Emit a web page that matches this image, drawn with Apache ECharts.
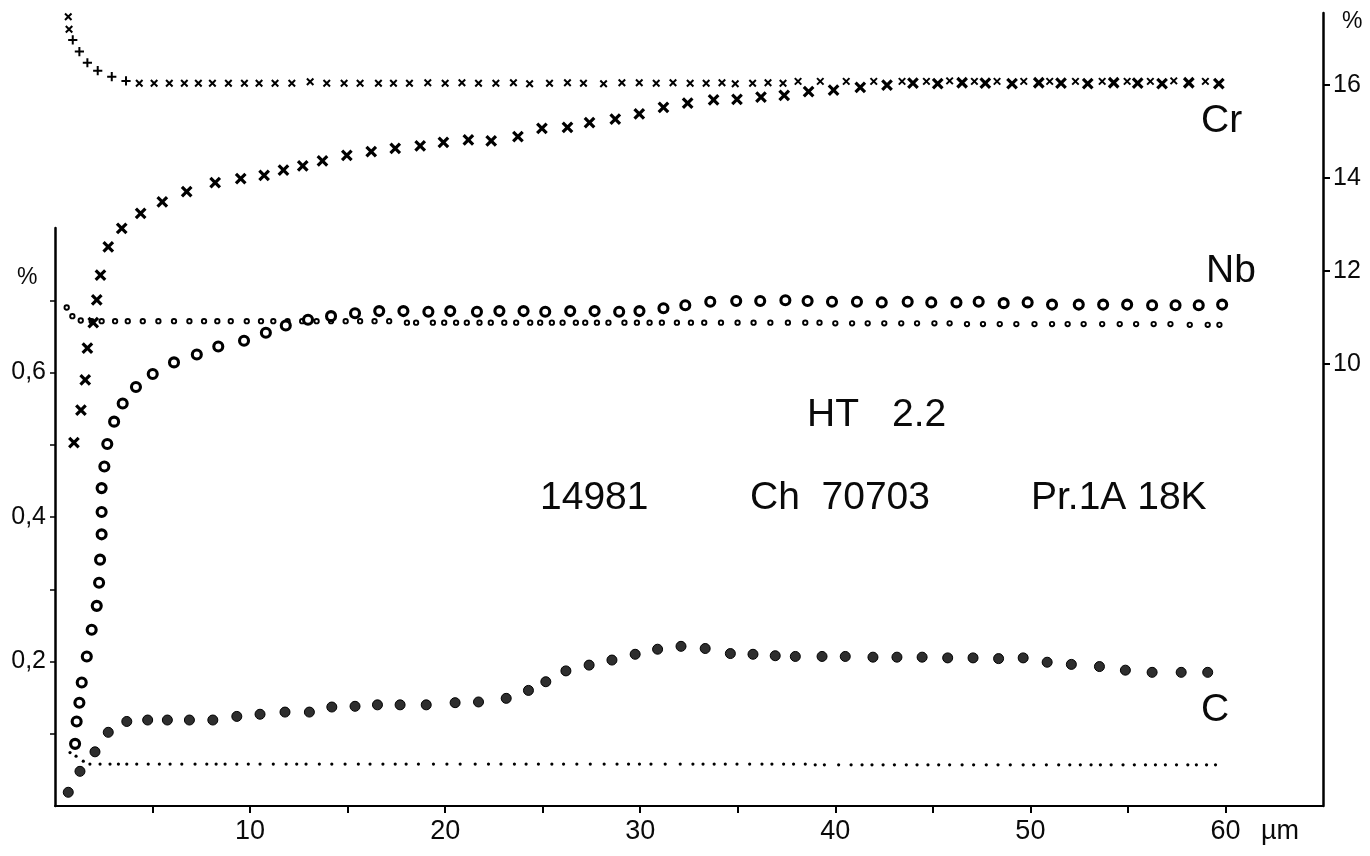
<!DOCTYPE html>
<html>
<head>
<meta charset="utf-8">
<script src="https://cdn.jsdelivr.net/npm/echarts@6/dist/echarts.min.js"></script>
<style>
  html, body { margin: 0; padding: 0; background: #fff; }
  #chart { width: 1370px; height: 856px; }
</style>
</head>
<body>
<div id="chart"></div>
<script>
// Depth profile HT 2.2 — depth in µm, concentrations in %.

// Cr, measured profile (right axis)
const crDepth = [0.97, 1.33, 1.55, 1.66, 1.96, 2.14, 2.33, 2.73, 3.42, 4.39, 5.50, 6.75, 8.21, 9.52, 10.72, 11.71, 12.70, 13.71, 14.96, 16.21, 17.44, 18.72, 19.91, 21.19, 22.36, 23.73, 24.96, 26.27, 27.40, 28.72, 29.95, 31.19, 32.43, 33.76, 34.96, 36.19, 37.38, 38.63, 39.91, 41.28, 42.65, 43.98, 45.25, 46.50, 47.69, 49.06, 50.43, 51.57, 52.94, 54.27, 55.50, 56.75, 58.12, 59.66];
const crValue = [8.31, 9.01, 9.66, 10.34, 10.89, 11.38, 11.91, 12.52, 12.92, 13.24, 13.49, 13.71, 13.90, 13.99, 14.06, 14.17, 14.26, 14.37, 14.49, 14.57, 14.64, 14.69, 14.77, 14.82, 14.80, 14.89, 15.07, 15.09, 15.19, 15.27, 15.38, 15.52, 15.61, 15.68, 15.69, 15.74, 15.78, 15.86, 15.89, 15.95, 16.00, 16.04, 16.03, 16.05, 16.04, 16.03, 16.05, 16.04, 16.03, 16.05, 16.04, 16.03, 16.05, 16.03];

// Cr, reference profile (right axis)
const crRefDepth = [0.68, 0.72, 0.91, 1.25, 1.66, 2.19, 2.91, 3.64, 4.32, 5.08, 5.86, 6.63, 7.35, 8.07, 8.89, 9.71, 10.46, 11.28, 12.14, 13.08, 13.93, 14.82, 15.64, 16.58, 17.35, 18.17, 19.11, 20.00, 20.86, 21.71, 22.60, 23.50, 24.33, 25.35, 26.27, 27.09, 28.12, 29.06, 29.95, 30.82, 31.68, 32.56, 33.38, 34.19, 34.87, 35.76, 36.55, 37.32, 38.09, 39.23, 40.56, 41.97, 43.42, 44.67, 45.86, 47.13, 48.29, 49.66, 50.99, 52.31, 53.68, 54.96, 56.15, 57.35, 58.97];
const crRefValue = [17.47, 17.20, 16.97, 16.72, 16.48, 16.31, 16.18, 16.09, 16.04, 16.04, 16.04, 16.04, 16.04, 16.04, 16.04, 16.04, 16.04, 16.04, 16.04, 16.07, 16.04, 16.04, 16.04, 16.04, 16.04, 16.04, 16.05, 16.04, 16.05, 16.04, 16.04, 16.05, 16.03, 16.04, 16.05, 16.04, 16.03, 16.05, 16.05, 16.04, 16.05, 16.04, 16.04, 16.05, 16.03, 16.04, 16.05, 16.04, 16.08, 16.08, 16.08, 16.08, 16.08, 16.08, 16.09, 16.08, 16.08, 16.08, 16.08, 16.08, 16.08, 16.08, 16.08, 16.09, 16.08];

// Nb, measured profile (left axis)
const nbDepth = [1.03, 1.11, 1.25, 1.37, 1.63, 1.88, 2.14, 2.26, 2.31, 2.39, 2.39, 2.39, 2.53, 2.68, 3.03, 3.47, 4.15, 5.01, 6.10, 7.27, 8.37, 9.69, 10.81, 11.83, 12.97, 14.15, 15.38, 16.62, 17.86, 19.14, 20.26, 21.63, 22.78, 24.02, 25.13, 26.41, 27.66, 28.92, 29.96, 31.19, 32.31, 33.59, 34.92, 36.15, 37.44, 38.58, 39.83, 41.11, 42.38, 43.71, 44.92, 46.21, 47.35, 48.63, 49.86, 51.11, 52.48, 53.73, 54.96, 56.24, 57.44, 58.63, 59.83];
const nbValue = [0.086, 0.117, 0.143, 0.171, 0.207, 0.244, 0.277, 0.309, 0.341, 0.376, 0.407, 0.440, 0.470, 0.501, 0.532, 0.557, 0.580, 0.598, 0.614, 0.625, 0.636, 0.644, 0.655, 0.665, 0.673, 0.678, 0.682, 0.685, 0.685, 0.684, 0.685, 0.684, 0.685, 0.685, 0.684, 0.685, 0.685, 0.684, 0.685, 0.689, 0.693, 0.698, 0.699, 0.699, 0.700, 0.699, 0.698, 0.698, 0.697, 0.698, 0.697, 0.697, 0.698, 0.696, 0.697, 0.694, 0.694, 0.694, 0.694, 0.693, 0.693, 0.693, 0.694];

// Nb, reference profile (left axis)
const nbRefDepth = [0.60, 0.89, 1.32, 1.88, 2.39, 3.08, 3.73, 4.50, 5.30, 6.10, 6.89, 7.64, 8.32, 9.01, 9.83, 10.56, 11.19, 11.92, 12.67, 13.41, 14.15, 14.90, 15.64, 16.38, 17.13, 18.04, 18.51, 19.37, 19.95, 20.56, 21.11, 21.76, 22.34, 23.03, 23.64, 24.36, 24.87, 25.47, 26.02, 26.70, 27.18, 27.78, 28.37, 29.19, 29.83, 30.48, 31.11, 31.88, 32.60, 33.28, 34.14, 34.99, 35.81, 36.67, 37.57, 38.46, 39.19, 40.00, 40.86, 41.66, 42.51, 43.38, 44.19, 45.08, 45.86, 46.75, 47.57, 48.43, 49.28, 50.21, 51.11, 51.91, 52.73, 53.68, 54.58, 55.42, 56.32, 57.18, 58.17, 59.09, 59.69];
const nbRefValue = [0.690, 0.678, 0.672, 0.671, 0.671, 0.671, 0.671, 0.671, 0.671, 0.671, 0.671, 0.671, 0.671, 0.671, 0.671, 0.671, 0.671, 0.671, 0.671, 0.671, 0.671, 0.671, 0.671, 0.671, 0.671, 0.669, 0.669, 0.669, 0.669, 0.669, 0.669, 0.669, 0.669, 0.669, 0.669, 0.669, 0.669, 0.669, 0.669, 0.669, 0.669, 0.669, 0.669, 0.669, 0.669, 0.669, 0.669, 0.669, 0.669, 0.669, 0.669, 0.669, 0.669, 0.669, 0.669, 0.669, 0.669, 0.668, 0.668, 0.668, 0.668, 0.668, 0.668, 0.668, 0.668, 0.667, 0.667, 0.667, 0.667, 0.667, 0.667, 0.667, 0.667, 0.667, 0.667, 0.667, 0.667, 0.667, 0.666, 0.666, 0.666];

// C, measured profile (left axis)
const cDepth = [0.68, 1.28, 2.05, 2.73, 3.68, 4.75, 5.76, 6.89, 8.09, 9.32, 10.51, 11.79, 13.04, 14.19, 15.38, 16.53, 17.69, 19.03, 20.51, 21.71, 23.13, 24.27, 25.16, 26.19, 27.38, 28.55, 29.74, 30.89, 32.09, 33.33, 34.62, 35.78, 36.92, 37.95, 39.32, 40.51, 41.93, 43.16, 44.45, 45.76, 47.06, 48.37, 49.63, 50.86, 52.10, 53.54, 54.87, 56.24, 57.73, 59.09];
const cValue = [0.019, 0.048, 0.075, 0.102, 0.117, 0.119, 0.119, 0.119, 0.119, 0.124, 0.127, 0.130, 0.130, 0.137, 0.138, 0.140, 0.140, 0.140, 0.143, 0.144, 0.149, 0.160, 0.172, 0.187, 0.195, 0.202, 0.210, 0.217, 0.221, 0.218, 0.211, 0.210, 0.208, 0.207, 0.207, 0.207, 0.206, 0.206, 0.206, 0.205, 0.205, 0.204, 0.205, 0.199, 0.196, 0.193, 0.188, 0.185, 0.185, 0.185];

// C, reference profile (left axis)
const cRefDepth = [0.77, 1.08, 1.45, 1.79, 2.31, 2.82, 3.25, 3.68, 4.19, 4.78, 5.35, 5.90, 6.50, 7.18, 7.78, 8.26, 8.72, 9.32, 9.91, 10.51, 11.19, 11.85, 12.39, 12.87, 13.55, 14.19, 14.87, 15.55, 16.15, 16.81, 17.44, 18.00, 18.63, 19.40, 20.09, 20.77, 21.54, 22.22, 22.86, 23.55, 24.15, 24.78, 25.47, 26.07, 26.75, 27.44, 28.15, 28.81, 29.40, 29.96, 30.55, 31.28, 32.05, 32.70, 33.22, 33.79, 34.36, 34.96, 35.61, 36.24, 36.75, 37.35, 37.86, 38.46, 38.97, 39.44, 40.17, 40.81, 41.37, 41.88, 42.45, 43.03, 43.64, 44.19, 44.75, 45.30, 45.86, 46.50, 47.09, 47.74, 48.34, 48.97, 49.63, 50.17, 50.82, 51.45, 52.02, 52.56, 53.11, 53.59, 54.14, 54.75, 55.33, 55.90, 56.41, 56.92, 57.49, 58.07, 58.51, 59.03, 59.49, 59.88];
const cRefValue = [0.074, 0.069, 0.062, 0.058, 0.058, 0.058, 0.058, 0.058, 0.058, 0.058, 0.058, 0.058, 0.058, 0.058, 0.058, 0.058, 0.058, 0.058, 0.058, 0.058, 0.058, 0.058, 0.058, 0.058, 0.058, 0.058, 0.058, 0.058, 0.058, 0.058, 0.058, 0.058, 0.058, 0.058, 0.058, 0.058, 0.058, 0.058, 0.058, 0.058, 0.058, 0.058, 0.058, 0.058, 0.058, 0.058, 0.058, 0.058, 0.058, 0.058, 0.058, 0.058, 0.058, 0.058, 0.058, 0.058, 0.058, 0.058, 0.058, 0.058, 0.058, 0.058, 0.058, 0.058, 0.057, 0.057, 0.057, 0.057, 0.057, 0.057, 0.057, 0.057, 0.057, 0.057, 0.057, 0.057, 0.057, 0.057, 0.057, 0.057, 0.057, 0.057, 0.057, 0.057, 0.057, 0.057, 0.057, 0.057, 0.057, 0.057, 0.057, 0.057, 0.057, 0.057, 0.057, 0.057, 0.057, 0.057, 0.057, 0.057, 0.057];

// Axis ticks and labels
const depthTicks = [5, 10, 15, 20, 25, 30, 35, 40, 45, 50, 55, 60];
const depthLabels = [10, 20, 30, 40, 50, 60];
const leftTicks = [0.1, 0.2, 0.3, 0.4, 0.5, 0.6, 0.7];
const leftLabels = [0.2, 0.4, 0.6];
const rightTicks = [10, 12, 14, 16];

const INK = '#000000';
const FONT = '"Liberation Sans", Arial, Helvetica, sans-serif';

const zip = (xs, ys) => xs.map((x, i) => [x, ys[i]]);

const chart = echarts.init(document.getElementById('chart'), null, { renderer: 'canvas' });

const CROSS = 'path://M0,0L10,10M10,0L0,10';

// big annotation text, placed by the top of its line box
const note = (x, y, text) => ({
  type: 'text', x: x, y: y,
  style: { text: text, font: '39px ' + FONT, fill: '#0a0a0a' }
});

const option = {
  animation: false,
  backgroundColor: '#ffffff',
  grid: [
    { left: 55, right: 47, top: 228, bottom: 50 },
    { left: 55, right: 47, top: 13, bottom: 50 }
  ],
  xAxis: [
    {
      gridIndex: 0, type: 'value', min: 0, max: 65, interval: 5,
      axisLine: { show: true, onZero: false, lineStyle: { color: INK, width: 2 } },
      axisTick: { show: true, customValues: depthTicks, length: 7, lineStyle: { color: INK, width: 2 } },
      axisLabel: { customValues: depthLabels, color: '#0a0a0a', fontSize: 27, fontFamily: FONT, margin: 12 },
      splitLine: { show: false }
    },
    {
      gridIndex: 1, type: 'value', min: 0, max: 65,
      axisLine: { show: false, onZero: false }, axisTick: { show: false },
      axisLabel: { show: false }, splitLine: { show: false }
    }
  ],
  yAxis: [
    {
      gridIndex: 0, type: 'value', min: 0, max: 0.8, position: 'left',
      axisLine: { show: true, onZero: false, lineStyle: { color: INK, width: 2.5 } },
      axisTick: { show: true, customValues: leftTicks, length: 5, lineStyle: { color: INK, width: 1.5 } },
      axisLabel: {
        customValues: leftLabels, color: '#0a0a0a', fontSize: 25, fontFamily: FONT, margin: 9,
        formatter: v => v.toFixed(1).replace('.', ',')
      },
      splitLine: { show: false }
    },
    {
      gridIndex: 1, type: 'value', min: 0.495, max: 17.55, position: 'right',
      axisLine: { show: true, onZero: false, lineStyle: { color: INK, width: 2.5 } },
      axisTick: { show: true, customValues: rightTicks, length: 7, lineStyle: { color: INK, width: 2 } },
      axisLabel: { customValues: rightTicks, color: '#0a0a0a', fontSize: 25, fontFamily: FONT, margin: 10 },
      splitLine: { show: false }
    }
  ],
  series: [
    {
      name: 'C ref', type: 'scatter', xAxisIndex: 0, yAxisIndex: 0,
      data: zip(cRefDepth, cRefValue),
      symbol: 'circle', symbolSize: 3.2, itemStyle: { color: INK, opacity: 1 }
    },
    {
      name: 'C', type: 'scatter', xAxisIndex: 0, yAxisIndex: 0,
      data: zip(cDepth, cValue),
      symbol: 'circle', symbolSize: 10,
      itemStyle: { color: '#2e2e2e', borderColor: INK, borderWidth: 1, opacity: 1 }
    },
    {
      name: 'Nb ref', type: 'scatter', xAxisIndex: 0, yAxisIndex: 0,
      data: zip(nbRefDepth, nbRefValue),
      symbol: 'circle', symbolSize: 4.4,
      itemStyle: { color: '#fff', borderColor: INK, borderWidth: 1.9, opacity: 1 }
    },
    {
      name: 'Nb', type: 'scatter', xAxisIndex: 0, yAxisIndex: 0,
      data: zip(nbDepth, nbValue),
      symbol: 'circle', symbolSize: 9,
      itemStyle: { color: '#fff', borderColor: INK, borderWidth: 3.1, opacity: 1 }
    },
    {
      name: 'Cr ref', type: 'scatter', xAxisIndex: 1, yAxisIndex: 1,
      data: zip(crRefDepth, crRefValue),
      symbol: CROSS, symbolSize: 6.5,
      symbolRotate: (v, p) => (p.dataIndex >= 2 && p.dataIndex < 8 ? 45 : 0),
      itemStyle: { color: 'none', borderColor: INK, borderWidth: 2, opacity: 1 }
    },
    {
      name: 'Cr', type: 'scatter', xAxisIndex: 1, yAxisIndex: 1,
      data: zip(crDepth, crValue),
      symbol: CROSS, symbolSize: 9.5,
      itemStyle: { color: 'none', borderColor: INK, borderWidth: 3.2, opacity: 1 }
    }
  ],
  graphic: [
    { type: 'text', left: 17, top: 266, style: { text: '%', font: '23px ' + FONT, fill: '#0a0a0a' } },
    { type: 'text', left: 1342, top: 10, style: { text: '%', font: '23px ' + FONT, fill: '#0a0a0a' } },
    { type: 'text', left: 1261, top: 818, style: { text: 'µm', font: '27px ' + FONT, fill: '#0a0a0a' } },
    note(1201, 102, 'Cr'),
    note(1206, 252, 'Nb'),
    note(1201, 691, 'C'),
    note(807, 396, 'HT'),
    note(892, 396, '2.2'),
    note(540, 479, '14981'),
    note(750, 479, 'Ch  70703'),
    note(1031, 479, 'Pr.1A 18K')
  ]
};

chart.setOption(option);
</script>
</body>
</html>
